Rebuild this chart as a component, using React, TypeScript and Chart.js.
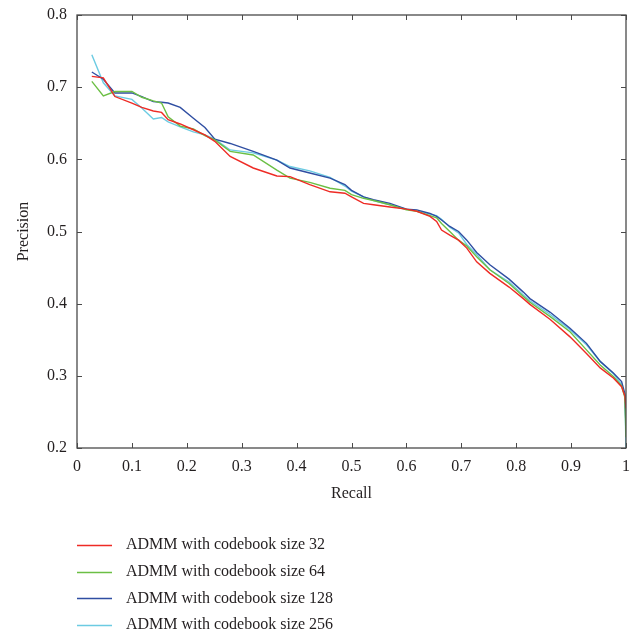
import React, { useEffect, useRef } from "react";
import { Chart, registerables } from "chart.js";

Chart.register(...registerables);

const recall = [
  0.027, 0.048, 0.069, 0.1, 0.118, 0.139, 0.154, 0.166, 0.188, 0.212, 0.233, 0.251, 0.279, 0.321,
  0.364, 0.388, 0.424, 0.461, 0.488, 0.5, 0.522, 0.54, 0.57, 0.6, 0.619, 0.643, 0.655, 0.664,
  0.679, 0.695, 0.71, 0.728, 0.752, 0.787, 0.813, 0.825, 0.862, 0.898, 0.928, 0.953, 0.977,
  0.992, 0.998, 1.0,
];

const precision32 = [
  0.715, 0.713, 0.687, 0.678, 0.672, 0.667, 0.665, 0.655, 0.649, 0.641, 0.634, 0.625, 0.604, 0.588,
  0.577, 0.576, 0.565, 0.555, 0.553, 0.548, 0.539, 0.537, 0.534, 0.531, 0.528, 0.521, 0.514, 0.502,
  0.495, 0.488, 0.477, 0.458, 0.442, 0.423, 0.407, 0.399, 0.378, 0.354, 0.331, 0.311, 0.297,
  0.285, 0.272, 0.255,
];
const precision64 = [
  0.708, 0.688, 0.694, 0.694, 0.686, 0.681, 0.678, 0.659, 0.646, 0.642, 0.633, 0.627, 0.611, 0.606,
  0.585, 0.574, 0.568, 0.56, 0.557, 0.551, 0.546, 0.543, 0.537, 0.53, 0.528, 0.522, 0.519, 0.511,
  0.5, 0.488, 0.48, 0.465, 0.447, 0.428, 0.41, 0.402, 0.382, 0.361, 0.336, 0.315, 0.299,
  0.286, 0.27, 0.215,
];
const precision128 = [
  0.721, 0.711, 0.692, 0.692, 0.687, 0.68, 0.679, 0.678, 0.672, 0.657, 0.644, 0.628, 0.622, 0.611,
  0.599, 0.588, 0.581, 0.574, 0.565, 0.557, 0.548, 0.544, 0.539, 0.531, 0.53, 0.525, 0.521, 0.516,
  0.507, 0.5, 0.488, 0.471, 0.454, 0.434, 0.416, 0.407, 0.388, 0.366, 0.345, 0.32, 0.304,
  0.292, 0.275, 0.228,
];
const precision256 = [
  0.745, 0.706, 0.688, 0.683, 0.671, 0.656, 0.658, 0.652, 0.645, 0.638, 0.634, 0.628, 0.613, 0.609,
  0.599, 0.59, 0.584, 0.575, 0.563, 0.556, 0.548, 0.543, 0.537, 0.531, 0.529, 0.524, 0.522, 0.517,
  0.506, 0.498, 0.482, 0.468, 0.447, 0.43, 0.412, 0.404, 0.385, 0.364, 0.343, 0.32, 0.303,
  0.288, 0.272, 0.2,
];

const seriesLabels = [
  "ADMM with codebook size 32",
  "ADMM with codebook size 64",
  "ADMM with codebook size 128",
  "ADMM with codebook size 256",
];
const seriesValues = [precision32, precision64, precision128, precision256];
const seriesColors = ["#ee2b25", "#6bbf44", "#2f4ea2", "#6ccbe2"];

const xTicks = [0, 0.1, 0.2, 0.3, 0.4, 0.5, 0.6, 0.7, 0.8, 0.9, 1];
const yTicks = [0.2, 0.3, 0.4, 0.5, 0.6, 0.7, 0.8];

const FONT = "'Liberation Serif', 'Times New Roman', serif";
const AXIS_COLOR = "#4a4a4a";
const TEXT_COLOR = "#231f20";

const framePlugin = {
  id: "frameAndLegend",
  afterDraw(chart: any) {
    const { ctx, chartArea } = chart;
    const { left, right, top, bottom } = chartArea;
    const xs = chart.scales.x;
    const ys = chart.scales.y;
    ctx.save();
    ctx.strokeStyle = AXIS_COLOR;
    ctx.lineWidth = 1.3;
    ctx.strokeRect(left, top, right - left, bottom - top);
    const tl = 5;
    ctx.lineWidth = 1;
    ctx.beginPath();
    xTicks.forEach((v) => {
      const px = Math.round(xs.getPixelForValue(v)) + 0.5;
      ctx.moveTo(px, bottom);
      ctx.lineTo(px, bottom - tl);
      ctx.moveTo(px, top);
      ctx.lineTo(px, top + tl);
    });
    yTicks.forEach((v) => {
      const py = Math.round(ys.getPixelForValue(v)) + 0.5;
      ctx.moveTo(left, py);
      ctx.lineTo(left + tl, py);
      ctx.moveTo(right, py);
      ctx.lineTo(right - tl, py);
    });
    ctx.stroke();

    // legend
    ctx.font = `16px ${FONT}`;
    ctx.textBaseline = "middle";
    ctx.textAlign = "left";
    chart.data.datasets.forEach((ds: any, i: number) => {
      const y = 545 + i * 26.7;
      ctx.strokeStyle = ds.borderColor;
      ctx.lineWidth = 1.3;
      ctx.beginPath();
      ctx.moveTo(77, Math.round(y) + 0.5);
      ctx.lineTo(112, Math.round(y) + 0.5);
      ctx.stroke();
      ctx.fillStyle = TEXT_COLOR;
      ctx.fillText(ds.label, 126, y);
    });
    ctx.restore();
  },
};

export default function App() {
  const ref = useRef<HTMLCanvasElement | null>(null);
  useEffect(() => {
    document.body.style.margin = "0";
    if (!ref.current) return;
    const chart = new Chart(ref.current, {
      type: "scatter",
      data: {
        datasets: seriesValues.map((vals, i) => ({
          label: seriesLabels[i],
          data: vals.map((y, j) => ({ x: recall[j], y })),
          showLine: true,
          borderColor: seriesColors[i],
          backgroundColor: seriesColors[i],
          borderWidth: 1.4,
          pointRadius: 0,
          tension: 0,
        })),
      },
      options: {
        responsive: false,
        animation: false,
        layout: { padding: { top: 15, right: 17, left: 0, bottom: 130 } },
        plugins: { legend: { display: false }, tooltip: { enabled: false } },
        scales: {
          x: {
            type: "linear",
            min: 0,
            max: 1,
            afterBuildTicks: (s: any) => {
              s.ticks = xTicks.map((v) => ({ value: v }));
            },
            afterFit: (s: any) => {
              s.height = 57;
              s.paddingLeft = 0;
              s.paddingRight = 0;
            },
            grid: { display: false, drawTicks: false },
            border: { display: false },
            ticks: {
              padding: 9,
              color: TEXT_COLOR,
              font: { family: FONT, size: 16 },
              maxRotation: 0,
              callback: (v: any) => String(Math.round(Number(v) * 10) / 10),
            },
            title: {
              display: true,
              text: "Recall",
              color: TEXT_COLOR,
              font: { family: FONT, size: 16 },
              padding: { top: 0, bottom: 2 },
            },
          },
          y: {
            type: "linear",
            min: 0.2,
            max: 0.8,
            afterBuildTicks: (s: any) => {
              s.ticks = yTicks.map((v) => ({ value: v }));
            },
            afterFit: (s: any) => {
              s.width = 77;
              s.paddingTop = 0;
              s.paddingBottom = 0;
            },
            grid: { display: false, drawTicks: false },
            border: { display: false },
            ticks: {
              padding: 10,
              color: TEXT_COLOR,
              font: { family: FONT, size: 16 },
              callback: (v: any) => (Math.round(Number(v) * 10) / 10).toFixed(1),
            },
            title: {
              display: true,
              text: "Precision",
              color: TEXT_COLOR,
              font: { family: FONT, size: 16 },
              padding: { top: 14, bottom: 0 },
            },
          },
        },
      },
      plugins: [framePlugin],
    });
    return () => chart.destroy();
  }, []);
  return (
    <div style={{ width: 643, height: 635 }}>
      <canvas ref={ref} width={643} height={635} style={{ display: "block", width: 643, height: 635 }} />
    </div>
  );
}
